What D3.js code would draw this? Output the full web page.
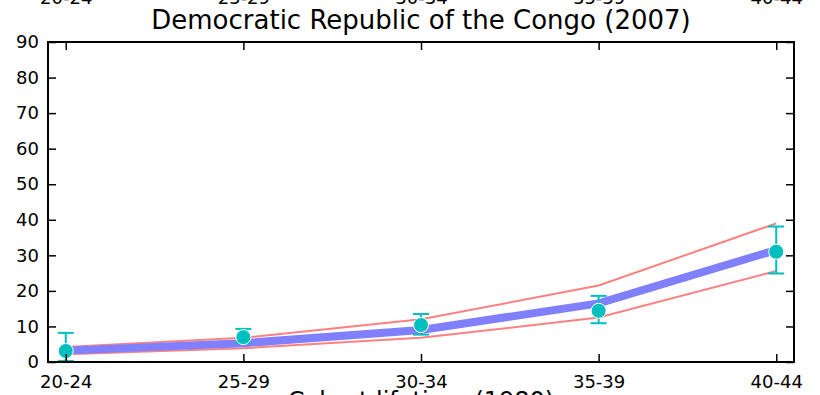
<html>
<head>
  <title>Congo 2007</title>
  <script src="https://d3js.org/d3.v7.min.js"></script>
  <style>
    body { margin: 0; background: white; }
    * { font-family: 'DejaVu Sans', sans-serif; }
  </style>
</head>
<body>
  <svg id="chart" width="820" height="395"></svg>
  <script>
    // values
    var ages = ["20-24", "25-29", "30-34", "35-39", "40-44"];
    var model = [3.2, 5.3, 9.0, 16.5, 31.5];
    var upper = [4.2, 6.8, 12.0, 21.5, 39.0];
    var lower = [2.2, 3.9, 6.8, 12.5, 25.6];
    var observed = [3.1, 7.0, 10.4, 14.4, 31.0];
    var errLow = [0.3, 5.3, 7.7, 10.9, 24.9];
    var errHigh = [8.2, 9.3, 13.5, 18.6, 38.1];
    var yTicks = [0, 10, 20, 30, 40, 50, 60, 70, 80, 90];

    drawChart();

    function drawChart() {
      var svg = d3.select("#chart");
      var pL = 48, pR = 794, pT = 42, pB = 362;

      var x = d3.scaleLinear().domain([-0.1, 4.1]).range([pL, pR]);
      var y = d3.scaleLinear().domain([0, 90]).range([pB, pT]);

      var line = d3.line().x((d, i) => x(i)).y(d => y(d));

      svg.append("path").datum(upper).attr("d", line)
        .attr("fill", "none").attr("stroke", "#ff8080").attr("stroke-width", 2);
      svg.append("path").datum(lower).attr("d", line)
        .attr("fill", "none").attr("stroke", "#ff8080").attr("stroke-width", 2);
      svg.append("path").datum(model).attr("d", line)
        .attr("fill", "none").attr("stroke", "#8080ff").attr("stroke-width", 8);

      // error bars
      var eb = svg.append("g").attr("stroke", "#00bfbf").attr("stroke-width", 2);
      ages.forEach(function (a, i) {
        eb.append("line").attr("x1", x(i)).attr("x2", x(i))
          .attr("y1", y(errLow[i])).attr("y2", y(errHigh[i]));
        [errLow[i], errHigh[i]].forEach(function (v) {
          eb.append("line").attr("x1", x(i) - 8).attr("x2", x(i) + 8)
            .attr("y1", y(v)).attr("y2", y(v));
        });
      });

      svg.append("g").selectAll("circle")
        .data(observed)
        .enter()
        .append("circle")
        .attr("cx", (d, i) => x(i))
        .attr("cy", d => y(d))
        .attr("r", 7.5)
        .style("fill", "#00bfbf")
        .style("stroke", "white")
        .style("stroke-width", 1);

      // axes, ticks inside like classic matplotlib
      var xAx = d3.axisBottom(x).tickValues(d3.range(ages.length))
        .tickFormat(i => ages[i]).tickSizeInner(-8).tickSizeOuter(0).tickPadding(13);
      var xTop = d3.axisTop(x).tickValues(d3.range(ages.length))
        .tickFormat(i => ages[i]).tickSizeInner(-8).tickSizeOuter(0).tickPadding(38);
      var yAx = d3.axisLeft(y).tickValues(yTicks).tickSizeInner(-8).tickSizeOuter(0).tickPadding(9);
      var yRight = d3.axisRight(y).tickValues(yTicks).tickFormat("").tickSizeInner(-8).tickSizeOuter(0);

      function style(g) {
        g.select(".domain").remove();
        g.selectAll(".tick line").attr("stroke", "black").attr("stroke-width", 1.5);
        g.selectAll(".tick text").attr("fill", "black").style("font-size", "18px");
      }

      svg.append("g").attr("transform", "translate(0," + pB + ")").call(xAx).call(style);
      svg.append("g").attr("transform", "translate(0," + pT + ")").call(xTop).call(style);
      svg.append("g").attr("transform", "translate(" + pL + ",0)").call(yAx).call(style);
      svg.append("g").attr("transform", "translate(" + pR + ",0)").call(yRight).call(style);

      svg.append("rect").attr("x", pL).attr("y", pT)
        .attr("width", pR - pL).attr("height", pB - pT)
        .attr("fill", "none").attr("stroke", "black").attr("stroke-width", 2);

      svg.append("text").attr("x", (pL + pR) / 2).attr("y", 29)
        .attr("text-anchor", "middle").style("font-size", "26px")
        .text("Democratic Republic of the Congo (2007)");

      svg.append("text").attr("x", (pL + pR) / 2).attr("y", 409)
        .attr("text-anchor", "middle").style("font-size", "24px")
        .text("Cohort lifetime (1980)");
    }
  </script>
</body>
</html>
